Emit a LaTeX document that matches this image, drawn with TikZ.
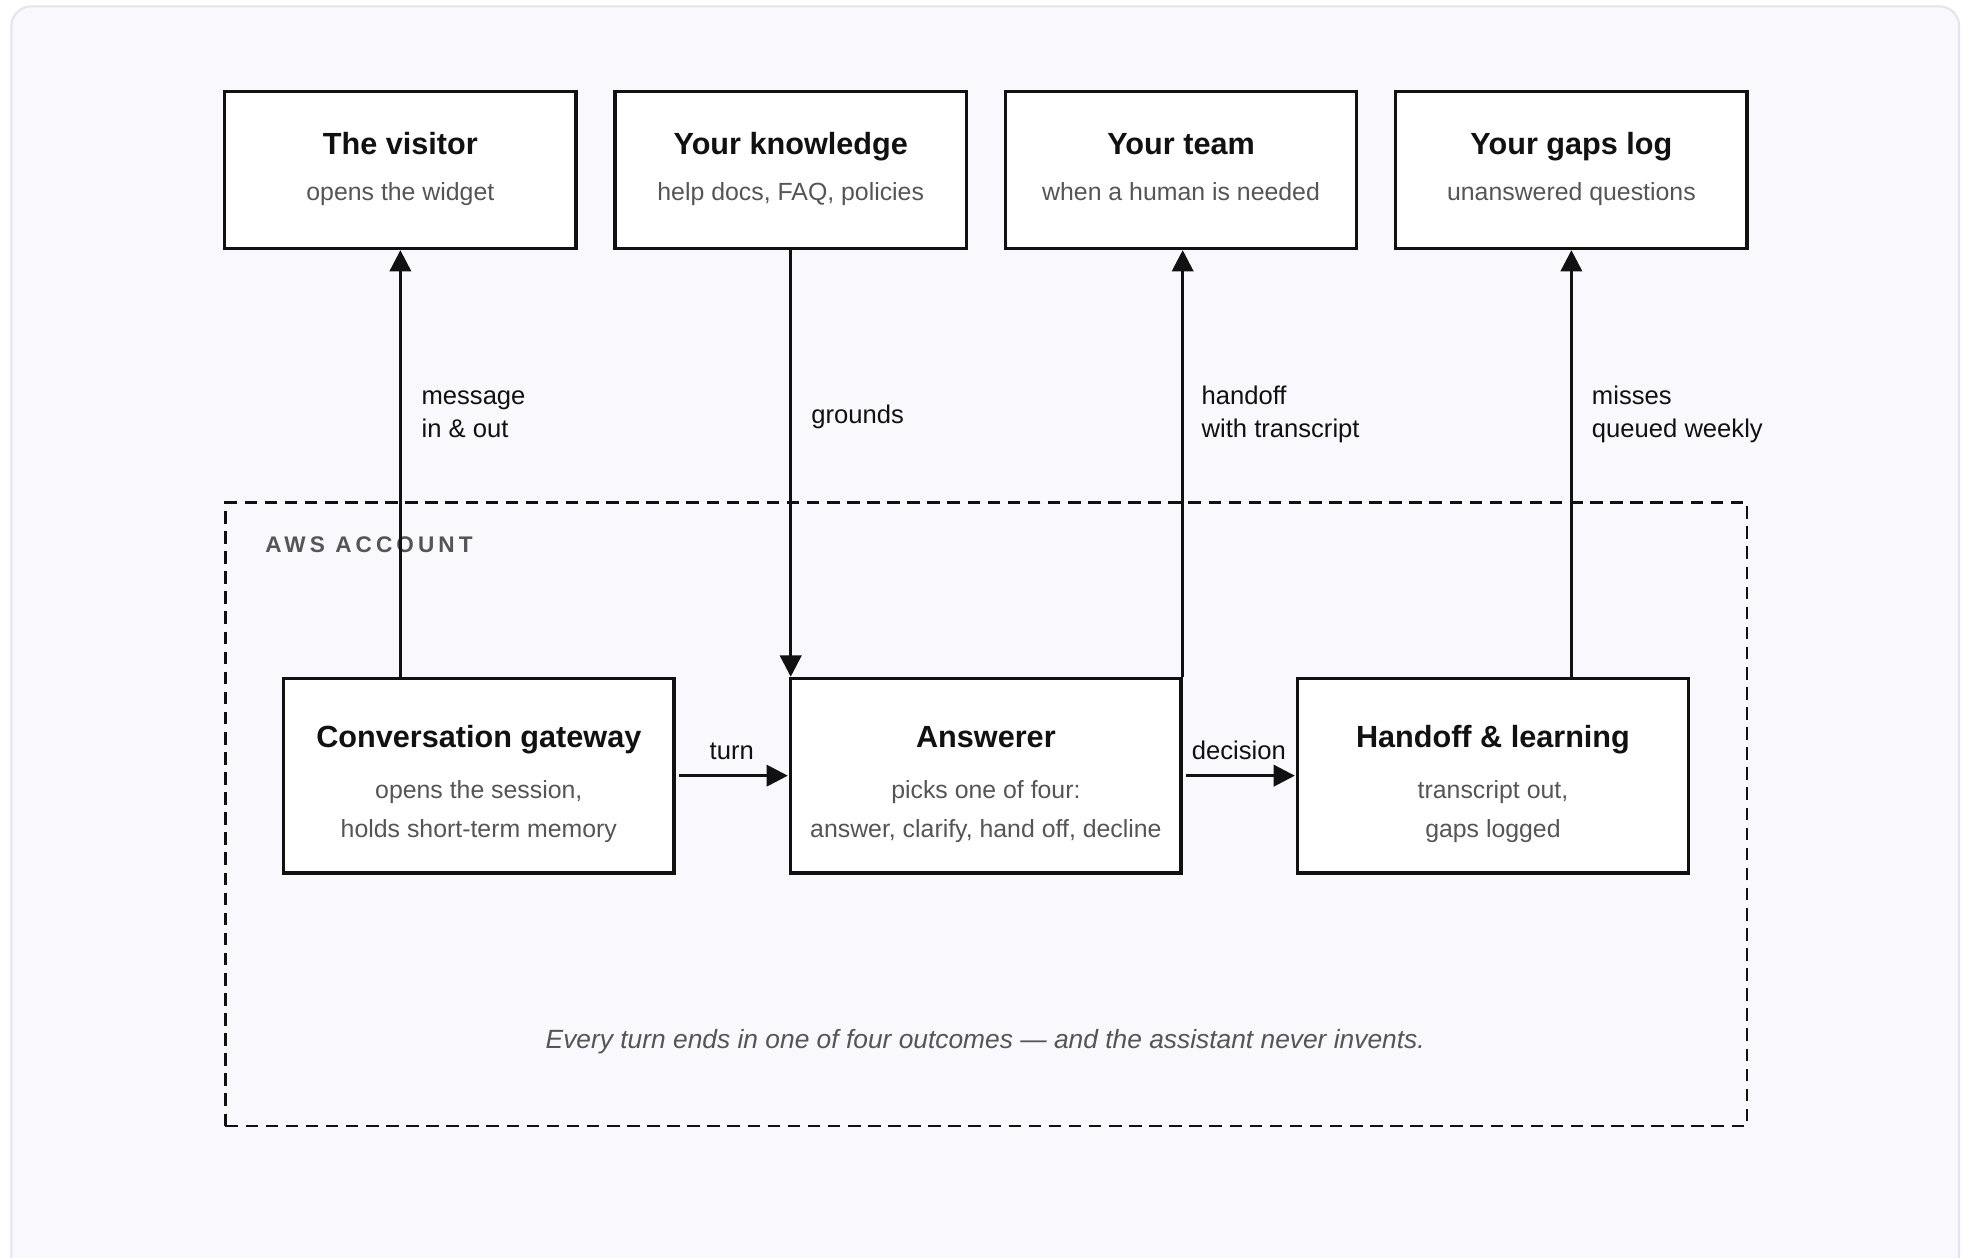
\documentclass[tikz,border=0pt]{standalone}
\usepackage{fontspec}
\setmainfont{Liberation Sans}
\newfontfamily\capsfont[LetterSpace=18]{Liberation Sans}
\usetikzlibrary{arrows.meta}

\definecolor{panelfill}{RGB}{248,248,253}
\definecolor{panelline}{RGB}{228,228,238}
\definecolor{ink}{RGB}{17,17,17}
\definecolor{muted}{RGB}{85,85,85}

\begin{document}
\begin{tikzpicture}[x=0.5pt,y=-0.5pt,
  box/.style={draw=ink, line width=1.3pt, fill=white, rectangle, inner sep=0pt},
  topbox/.style={box, minimum width=140pt, minimum height=62.5pt},
  corebox/.style={box, minimum width=155.5pt, minimum height=77.5pt},
  boxtitle/.style={anchor=base, inner sep=0pt, text=ink, font=\fontsize{12.2pt}{14pt}\selectfont\bfseries},
  boxsub/.style={anchor=base, inner sep=0pt, text=muted, font=\fontsize{9.9pt}{12pt}\selectfont},
  edgelbl/.style={anchor=base west, inner sep=0pt, text=ink, font=\fontsize{10.2pt}{12pt}\selectfont},
  flowlbl/.style={edgelbl, anchor=base},
  arr/.style={draw=ink, line width=1.2pt, -{Triangle[length=8.5pt,width=8.5pt]}},
  zone/.style={draw=ink, line width=1pt, dash pattern=on 5pt off 3pt, rectangle, inner sep=0pt,
               minimum width=606.2pt, minimum height=248.25pt},
]
\useasboundingbox (0,0) rectangle (1568,1002);

% page and panel
\begin{scope}
  \clip (0,0) rectangle (1568,1002);
  \fill[white] (0,0) rectangle (1568,1002);
  \draw[panelline, fill=panelfill, line width=0.8pt, rounded corners=8pt] (9,5) rectangle (1561,1040);
\end{scope}

% account boundary
\node[zone] (aws) at (785.8,648.75) {};
\node[anchor=base west, inner sep=0pt, text=muted,
      font=\capsfont\fontsize{9pt}{11pt}\selectfont\bfseries] (awslbl) at (211,440.3) {AWS ACCOUNT};

% outside parties
\node[topbox] (visitor)   at (319,135.5)  {};
\node[topbox] (knowledge) at (630,135.5)  {};
\node[topbox] (team)      at (941,135.5)  {};
\node[topbox] (gaps)      at (1252,135.5) {};

\node[boxtitle] (visitor-t)   at (319,122.7)  {The visitor};
\node[boxsub]   (visitor-s)   at (319,159.4)  {opens the widget};
\node[boxtitle] (knowledge-t) at (630,122.7)  {Your knowledge};
\node[boxsub]   (knowledge-s) at (630,159.4)  {help docs, FAQ, policies};
\node[boxtitle] (team-t)      at (941,122.7)  {Your team};
\node[boxsub]   (team-s)      at (941,159.4)  {when a human is needed};
\node[boxtitle] (gaps-t)      at (1252,122.7) {Your gaps log};
\node[boxsub]   (gaps-s)      at (1252,159.4) {unanswered questions};

% services inside the account
\node[corebox] (gateway)  at (381.5,618)  {};
\node[corebox] (answerer) at (785.5,618)  {};
\node[corebox] (handoff)  at (1189.5,618) {};

\node[boxtitle] (gateway-t)  at (381.5,595.7) {Conversation gateway};
\node[boxsub]   (gateway-s1) at (381.5,636)   {opens the session,};
\node[boxsub]   (gateway-s2) at (381.5,667.4) {holds short-term memory};
\node[boxtitle] (answerer-t)  at (785.5,595.7) {Answerer};
\node[boxsub]   (answerer-s1) at (785.5,636)   {picks one of four:};
\node[boxsub]   (answerer-s2) at (785.5,667.4) {answer, clarify, hand off, decline};
\node[boxtitle] (handoff-t)  at (1189.5,595.7) {Handoff \& learning};
\node[boxsub]   (handoff-s1) at (1189.5,636)   {transcript out,};
\node[boxsub]   (handoff-s2) at (1189.5,667.4) {gaps logged};

% connectors
\draw[arr] (gateway.north -| visitor.south) -- (visitor.south);
\draw[arr] (knowledge.south) -- (knowledge.south |- answerer.north);
\draw[arr] (answerer.north east) -- (answerer.north east |- team.south);
\draw[arr] (handoff.north -| gaps.south) -- (gaps.south);
\draw[arr, shorten <=1.5pt, shorten >=0.5pt] (gateway.east) -- (answerer.west);
\draw[arr, shorten <=1.5pt, shorten >=0.5pt] (answerer.east) -- (handoff.west);

% connector labels
\node[edgelbl] (msg1)   at (335.5,322)   {message};
\node[edgelbl] (msg2)   at (335.5,348.7) {in \& out};
\node[edgelbl] (ground) at (646,337.3)   {grounds};
\node[edgelbl] (hand1)  at (957,322)     {handoff};
\node[edgelbl] (hand2)  at (957,348.7)   {with transcript};
\node[edgelbl] (miss1)  at (1268,322)    {misses};
\node[edgelbl] (miss2)  at (1268,348.7)  {queued weekly};
\node[flowlbl] (turn)   at (583,605)     {turn};
\node[flowlbl] (decide) at (987,605)     {decision};

% footnote
\node[anchor=base, inner sep=0pt, text=muted, font=\fontsize{10.5pt}{12pt}\selectfont\itshape]
  (note) at (785,835.3) {Every turn ends in one of four outcomes — and the assistant never invents.};
\end{tikzpicture}
\end{document}
